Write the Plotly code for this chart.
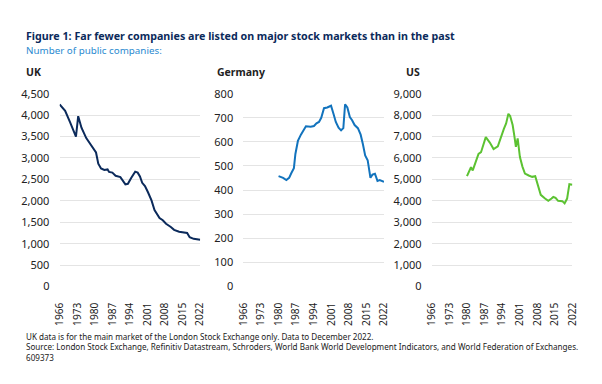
import plotly.graph_objects as go

# ---- data ----
uk_years = [1966, 1968.2, 1970.1, 1972.5, 1973.4, 1974.7, 1976.6, 1977.9, 1979.2, 1980.5,
            1981.4, 1982.5, 1983.8, 1985.1, 1985.7, 1987, 1988.3, 1990.2, 1992.2, 1993.2,
            1994.5, 1996.1, 1997.1, 1998, 1998.9, 2000, 2001.2, 2002.6, 2003.8, 2005.8,
            2007.1, 2008.4, 2010.3, 2011.6, 2013.6, 2016.8, 2017.8, 2019.4, 2022]
uk_values = [4250, 4100, 3840, 3500, 3975, 3705, 3465, 3353, 3241, 3129,
             2867, 2755, 2719, 2733, 2674, 2658, 2584, 2554, 2383, 2397,
             2531, 2681, 2658, 2569, 2420, 2345, 2200, 2009, 1785, 1599,
             1546, 1465, 1389, 1322, 1277, 1248, 1151, 1113, 1091]

de_years = [1980, 1981.8, 1983.1, 1984.2, 1985.1, 1986.1, 1986.7, 1987.7, 1988.9, 1990,
            1990.9, 1992.8, 1994.1, 1995.1, 1996.1, 1997, 1998.1, 1999.4, 2000.9, 2001.9,
            2002.8, 2003.9, 2004.9, 2005.8, 2006.5, 2007.4, 2008.4, 2009.3, 2010.3, 2011.6,
            2012.7, 2013.6, 2014.5, 2015.5, 2016.6, 2017.4, 2018.4, 2019.4, 2020.3, 2022]
de_values = [458, 451, 442, 451, 471, 491, 550, 604, 630, 650,
             665, 663, 666, 677, 683, 700, 740, 743, 750, 716,
             683, 659, 648, 657, 756, 743, 703, 690, 670, 657,
             630, 590, 544, 524, 451, 464, 468, 438, 442, 434]

us_years = [1980, 1981.6, 1982.3, 1983.2, 1984.6, 1985.6, 1986.5, 1987.5, 1989.1, 1990.6,
            1992.3, 1993.6, 1994.7, 1995.6, 1996.5, 1997.2, 1998.2, 1998.8, 1999.5, 2000.2,
            2001.1, 2002.1, 2003.1, 2004.6, 2006, 2007.2, 2008.4, 2009.4, 2011.1, 2012.4,
            2013.7, 2014.4, 2015.3, 2016.3, 2018, 2018.9, 2019.9, 2020.8, 2022]
us_values = [5150, 5566, 5418, 5746, 6194, 6269, 6568, 6971, 6717, 6418,
             6538, 7016, 7358, 7613, 8060, 7956, 7537, 7090, 6524, 6911,
             6045, 5597, 5271, 5181, 5119, 5150, 4600, 4280, 4105, 3999,
             4105, 4180, 4135, 3999, 3985, 3880, 4105, 4776, 4746]

x_ticks = [1966, 1973, 1980, 1987, 1994, 2001, 2008, 2015, 2022]
uk_yticks = [0, 500, 1000, 1500, 2000, 2500, 3000, 3500, 4000, 4500]
de_yticks = [0, 100, 200, 300, 400, 500, 600, 700, 800]
us_yticks = [0, 1000, 2000, 3000, 4000, 5000, 6000, 7000, 8000, 9000]

title = "Figure 1: Far fewer companies are listed on major stock markets than in the past"
subtitle = "Number of public companies:"
panel_titles = ["UK", "Germany", "US"]
footnotes = [
    "UK data is for the main market of the London Stock Exchange only. Data to December 2022.",
    "Source: London Stock Exchange, Refinitiv Datastream, Schroders, World Bank World Development Indicators, and World Federation of Exchanges.",
    "609373",
]

# ---- figure ----
# The page body keeps its default 8px margin, so the figure is sized to fill
# the 602x384 window exactly and page pixel positions are offset by 8.
PAGE_W, PAGE_H, BODY = 602, 384, 8
W, H = PAGE_W - 2 * BODY, PAGE_H - 2 * BODY
FONT = "Noto Sans"
TXT = "#222222"

def px_x(p):
    return (p - BODY) / W

def px_y(p):
    return 1 - (p - BODY) / H

fig = go.Figure()
series = [
    (uk_years, uk_values, "#0b2a5b", "x", "y"),
    (de_years, de_values, "#1273bd", "x2", "y2"),
    (us_years, us_values, "#5cc232", "x3", "y3"),
]
for xs, ys, col, xa, ya in series:
    fig.add_trace(go.Scatter(x=xs, y=ys, mode="lines", xaxis=xa, yaxis=ya,
                             line=dict(color=col, width=2), showlegend=False,
                             hoverinfo="skip"))

ydom = [px_y(290), px_y(89)]
xdoms = [[px_x(52.7), px_x(196.7)], [px_x(241), px_x(385)], [px_x(434), px_x(578)]]
yranges = [[0, 4500], [0, 800], [0, 9000]]
yticksets = [uk_yticks, de_yticks, us_yticks]

layout = dict(
    width=W, height=H, margin=dict(l=0, r=0, t=0, b=0),
    paper_bgcolor="white", plot_bgcolor="white",
    font=dict(family=FONT, color=TXT, size=11),
)
for i in range(3):
    sx = "" if i == 0 else str(i + 1)
    layout["xaxis" + sx] = dict(
        domain=xdoms[i], range=[1966, 2022], anchor="y" + sx,
        tickmode="array", tickvals=x_ticks, ticktext=[str(t) for t in x_ticks],
        tickangle=-90, showgrid=False, zeroline=False, showline=False,
        ticks="outside", ticklen=11, tickcolor="rgba(0,0,0,0)",
        tickfont=dict(family=FONT, size=10.2, color=TXT), fixedrange=True,
    )
    layout["yaxis" + sx] = dict(
        domain=ydom, range=yranges[i], anchor="x" + sx,
        tickmode="array", tickvals=yticksets[i],
        ticktext=[f"{v:,}" for v in yticksets[i]],
        showgrid=True, gridcolor="#e4e4e4", gridwidth=1,
        zeroline=False, showline=False,
        ticks="outside", ticklen=7, tickcolor="rgba(0,0,0,0)",
        tickfont=dict(family=FONT, size=11, color=TXT), fixedrange=True,
    )

annotations = [
    dict(text="<b>" + title + "</b>", x=px_x(16), y=px_y(29), xref="paper", yref="paper",
         xanchor="left", yanchor="middle", showarrow=False,
         font=dict(family=FONT, size=10.7, color="#0b2a5b")),
    dict(text=subtitle, x=px_x(16), y=px_y(44), xref="paper", yref="paper",
         xanchor="left", yanchor="middle", showarrow=False,
         font=dict(family=FONT, size=9.8, color="#2a8ad0")),
]
for name, xp in zip(panel_titles, [16, 212, 405]):
    annotations.append(dict(text="<b>" + name + "</b>", x=px_x(xp), y=px_y(66),
                            xref="paper", yref="paper", xanchor="left", yanchor="middle",
                            showarrow=False, font=dict(family=FONT, size=10.5, color=TXT)))
for line, yp in zip(footnotes, [342.5, 353, 363.5]):
    annotations.append(dict(text=line, x=px_x(16), y=px_y(yp), xref="paper", yref="paper",
                            xanchor="left", yanchor="middle", showarrow=False,
                            font=dict(family=FONT, size=8.1, color=TXT)))
layout["annotations"] = annotations

fig.update_layout(**layout)
fig.write_html("out.html", config={"displayModeBar": False})
